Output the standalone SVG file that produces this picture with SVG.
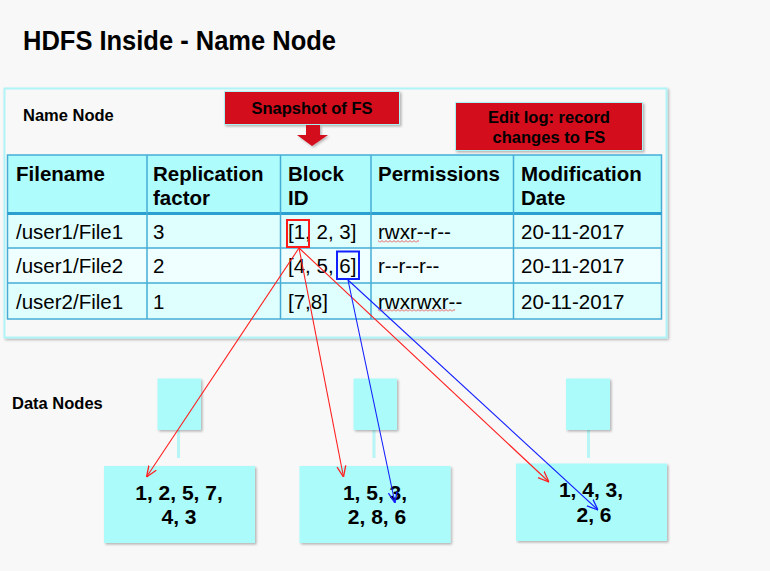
<svg xmlns="http://www.w3.org/2000/svg" width="770" height="571" viewBox="0 0 770 571">
<style>
.t{font-family:"Liberation Sans",Arial,sans-serif;fill:#000}
.b{font-weight:bold}
.hd{font-size:20.5px;font-weight:bold}
.bd{font-size:20.5px}
.lbl{font-size:16.5px;font-weight:bold}
.dn{font-size:21px;font-weight:bold}
.grid{stroke:#45acd6;stroke-width:1.5;fill:none}
.red{fill:#d3101b;stroke:#a9f3f5;stroke-width:1}
.cy{fill:#abfbfb}
.stem{stroke:#b6f6f6;stroke-width:3}
.ar{stroke:#ff2020;stroke-width:1.1;fill:none}
.ab{stroke:#1420ff;stroke-width:1.1;fill:none}
</style>
<defs>
<filter id="sh" x="-10%" y="-10%" width="130%" height="130%">
<feDropShadow dx="1.5" dy="1.5" stdDeviation="1" flood-color="#000" flood-opacity="0.28"/>
</filter>
<marker id="mr" viewBox="0 0 10 10" refX="10" refY="5" markerWidth="11" markerHeight="11" markerUnits="userSpaceOnUse" orient="auto">
<path d="M0,1 L10,5 L0,9" fill="none" stroke="#ff2020" stroke-width="1.2"/>
</marker>
<marker id="mb" viewBox="0 0 10 10" refX="10" refY="5" markerWidth="11" markerHeight="11" markerUnits="userSpaceOnUse" orient="auto">
<path d="M0,1 L10,5 L0,9" fill="none" stroke="#1420ff" stroke-width="1.2"/>
</marker>
<pattern id="sq" patternUnits="userSpaceOnUse" width="4" height="3">
<path d="M0,2.5 L2,0.5 L4,2.5" fill="none" stroke="#f03030" stroke-width="0.8"/>
</pattern>
</defs>
<rect width="770" height="571" fill="#f8f8f8"/>

<g id="title">
<text class="t b" x="23" y="49.5" font-size="27" textLength="313" lengthAdjust="spacingAndGlyphs">HDFS Inside - Name Node</text>
</g>

<g id="namenode">
<rect x="4.5" y="88.5" width="662" height="249" fill="#f8f8f8" stroke="#b0f4f8" stroke-width="2" filter="url(#sh)"/>
<text class="t lbl" x="23" y="121">Name Node</text>
</g>

<g id="snapshot">
<rect class="red" x="224.5" y="91.5" width="175" height="33" filter="url(#sh)"/>
<text class="t lbl" x="312" y="114" text-anchor="middle">Snapshot of FS</text>
<path d="M306,125 H320 V135 H328 L312,146 L297,135 H306 Z" fill="#d3101b" filter="url(#sh)"/>
</g>

<g id="editlog">
<rect class="red" x="455.5" y="102.5" width="187" height="48" filter="url(#sh)"/>
<text class="t lbl" x="549" y="123" text-anchor="middle">Edit log: record</text>
<text class="t lbl" x="549" y="143" text-anchor="middle">changes to FS</text>
</g>

<g id="table">
<rect x="7.5" y="155" width="654" height="58" fill="#aefcfc"/>
<rect x="7.5" y="213" width="654" height="35" fill="#dffefe"/>
<rect x="7.5" y="248" width="654" height="35" fill="#effefe"/>
<rect x="7.5" y="283" width="654" height="36" fill="#dffefe"/>
<rect class="grid" x="7.5" y="155" width="654" height="164"/>
<line class="grid" x1="7.5" y1="248" x2="661.5" y2="248"/>
<line class="grid" x1="7.5" y1="283" x2="661.5" y2="283"/>
<line x1="7.5" y1="213.5" x2="661.5" y2="213.5" stroke="#2a9fd0" stroke-width="3"/>
<line class="grid" x1="147" y1="155" x2="147" y2="319"/>
<line class="grid" x1="280.5" y1="155" x2="280.5" y2="319"/>
<line class="grid" x1="371" y1="155" x2="371" y2="319"/>
<line class="grid" x1="513.5" y1="155" x2="513.5" y2="319"/>

<text class="t hd" x="16" y="181">Filename</text>
<text class="t hd" x="153" y="181">Replication</text>
<text class="t hd" x="153" y="205">factor</text>
<text class="t hd" x="288" y="181">Block</text>
<text class="t hd" x="288" y="205">ID</text>
<text class="t hd" x="378" y="181">Permissions</text>
<text class="t hd" x="521" y="181">Modification</text>
<text class="t hd" x="521" y="205">Date</text>

<text class="t bd" x="16" y="238.5">/user1/File1</text>
<text class="t bd" x="153" y="238.5">3</text>
<text class="t bd" x="288" y="238.5">[1, 2, 3]</text>
<text class="t bd" x="378" y="238.5">rwxr--r--</text>
<text class="t bd" x="521" y="238.5">20-11-2017</text>

<text class="t bd" x="16" y="273">/user1/File2</text>
<text class="t bd" x="153" y="273">2</text>
<text class="t bd" x="288" y="273">[4, 5, 6]</text>
<text class="t bd" x="378" y="273">r--r--r--</text>
<text class="t bd" x="521" y="273">20-11-2017</text>

<text class="t bd" x="16" y="308.5">/user2/File1</text>
<text class="t bd" x="153" y="308.5">1</text>
<text class="t bd" x="288" y="308.5">[7,8]</text>
<text class="t bd" x="378" y="308.5">rwxrwxr--</text>
<text class="t bd" x="521" y="308.5">20-11-2017</text>

<rect x="378" y="240" width="41" height="3" fill="url(#sq)"/>
<rect x="378" y="309" width="77" height="3" fill="url(#sq)"/>

<rect x="287" y="220" width="22" height="27" fill="none" stroke="#ff1a1a" stroke-width="2"/>
<rect x="337" y="251.5" width="22" height="27.5" fill="none" stroke="#1020ff" stroke-width="2"/>
</g>

<g id="datanodes-label">
<text class="t lbl" x="12" y="409">Data Nodes</text>
</g>

<g id="datanode1">
<line class="stem" x1="178.5" y1="430" x2="178.5" y2="458"/>
<rect class="cy" x="157.5" y="378.5" width="43.5" height="51.5" filter="url(#sh)"/>
<rect class="cy" x="104" y="466" width="151" height="77" filter="url(#sh)"/>
<text class="t dn" x="179" y="499.5" text-anchor="middle">1, 2, 5, 7,</text>
<text class="t dn" x="179" y="523.5" text-anchor="middle">4, 3</text>
</g>

<g id="datanode2">
<line class="stem" x1="374" y1="430" x2="374" y2="458"/>
<rect class="cy" x="353.5" y="378.5" width="43.5" height="51.5" filter="url(#sh)"/>
<rect class="cy" x="299.5" y="466" width="151" height="77" filter="url(#sh)"/>
<text class="t dn" x="375" y="499.5" text-anchor="middle">1, 5, 3,</text>
<text class="t dn" x="377" y="523.5" text-anchor="middle">2, 8, 6</text>
</g>

<g id="datanode3">
<line class="stem" x1="588.5" y1="430" x2="588.5" y2="458"/>
<rect class="cy" x="566" y="378.5" width="44" height="51.5" filter="url(#sh)"/>
<rect class="cy" x="516" y="463.5" width="151" height="77.5" filter="url(#sh)"/>
<text class="t dn" x="591" y="497" text-anchor="middle">1, 4, 3,</text>
<text class="t dn" x="594" y="522" text-anchor="middle">2, 6</text>
</g>

<g id="connectors">
<line class="ar" x1="299" y1="248" x2="146.5" y2="477" marker-end="url(#mr)"/>
<line class="ar" x1="299" y1="248" x2="343.5" y2="477" marker-end="url(#mr)"/>
<line class="ar" x1="299" y1="248" x2="549" y2="482" marker-end="url(#mr)"/>
<line class="ab" x1="348" y1="280" x2="395" y2="503" marker-end="url(#mb)"/>
<line class="ab" x1="348" y1="280" x2="598" y2="510" marker-end="url(#mb)"/>
</g>
</svg>
